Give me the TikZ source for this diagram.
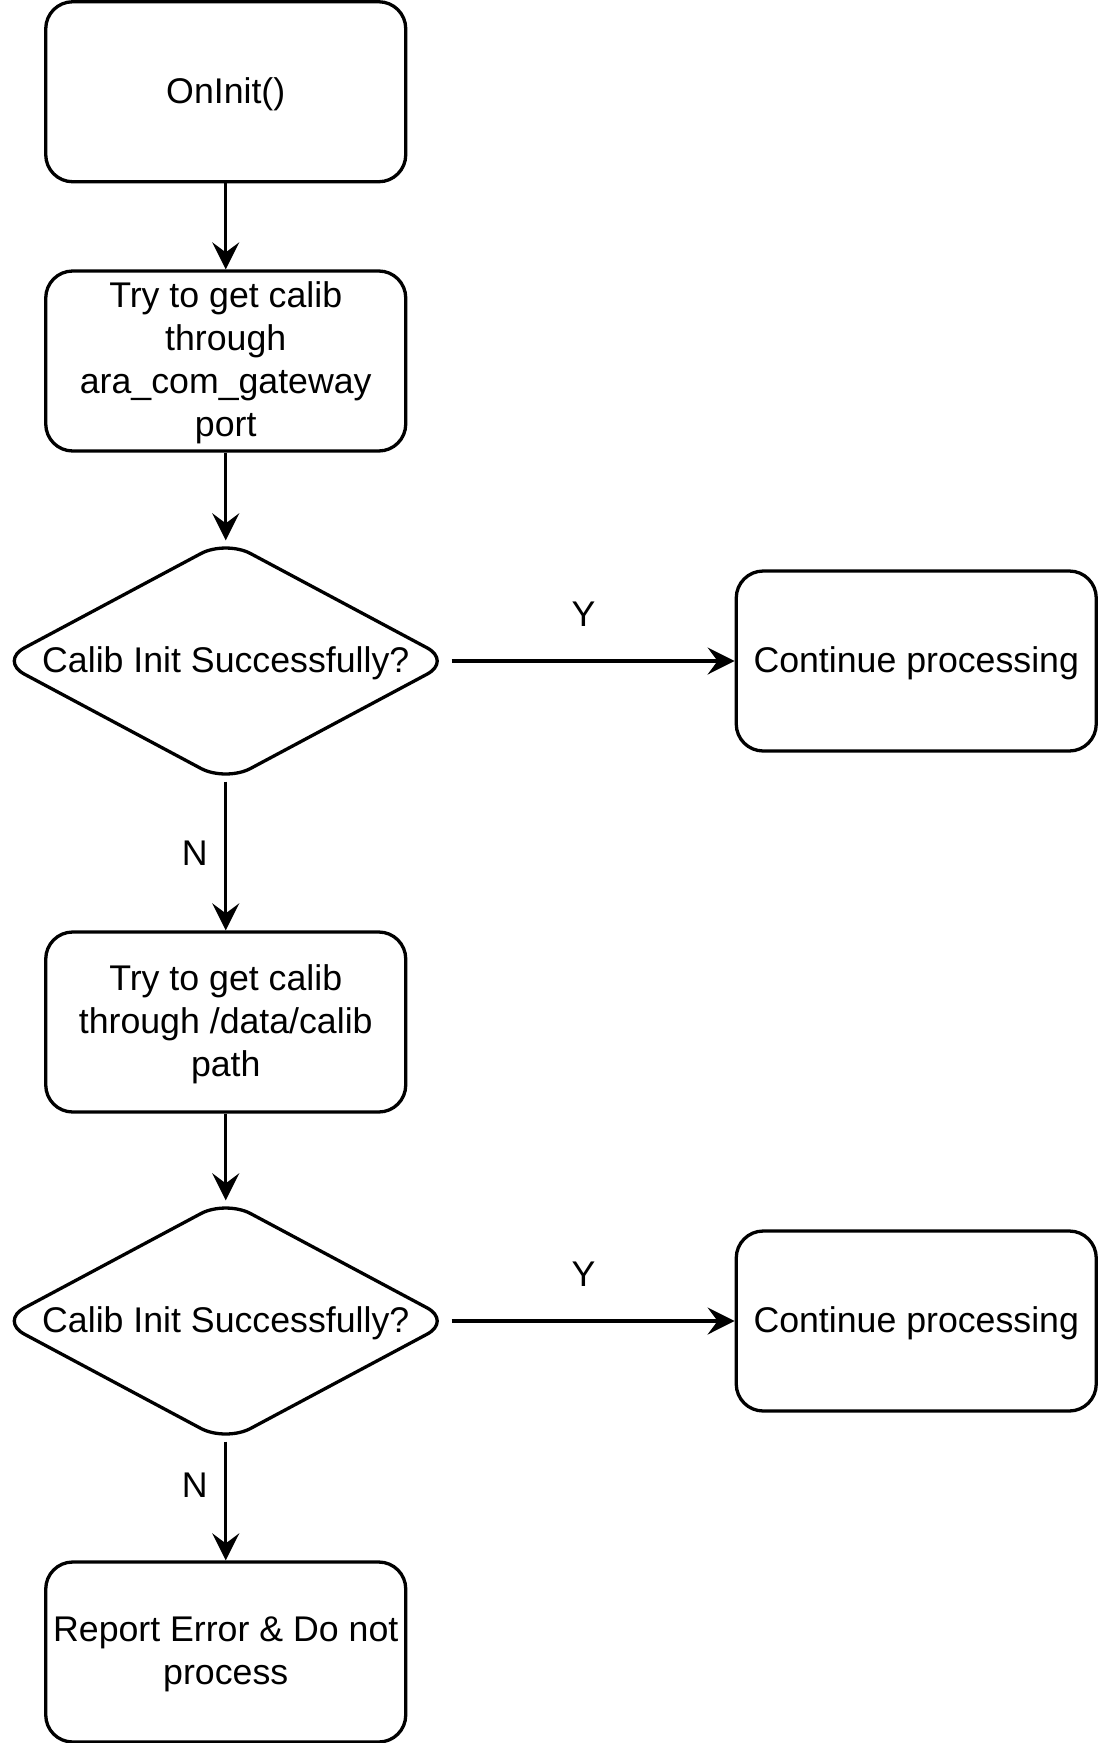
\documentclass[tikz,border=0pt]{standalone}
\usepackage{fontspec}
\setmainfont{Liberation Sans}
\usetikzlibrary{arrows.meta}
\newcommand{\lwrtxt}[1]{\raisebox{-2.8pt}[\height][\depth]{\begin{tabular}{@{}c@{}}#1\end{tabular}}}
\begin{document}
\begin{tikzpicture}[x=1pt,y=-1pt,
  every node/.style={font=\fontsize{35.7}{43}\selectfont},
  procbox/.style={draw, line width=3.3pt, rounded corners=27pt, minimum width=360pt, minimum height=180pt, inner sep=0pt, align=center},
  decbox/.style={minimum width=451.5pt, minimum height=241pt, inner sep=0pt},
  decline/.style={line width=3.3pt, rounded corners=28pt},
  conn/.style={line width=3.3pt, -{Stealth[length=27pt,width=27pt,inset=10pt]}},
  lbl/.style={inner sep=0pt}]
\useasboundingbox (0,0) rectangle (1101,1743);
\node[procbox] (b1) at (225.75,91.75) {\lwrtxt{OnInit()}};
\node[procbox] (b2) at (225.75,361) {\lwrtxt{Try to get calib\\through\\ara\_com\_gateway\\port}};
\node[decbox] (d1) at (225.75,661) {\lwrtxt{Calib Init Successfully?}};
\draw[decline] (d1.north) -- (d1.east) -- (d1.south) -- (d1.west) -- cycle;
\node[procbox] (c1) at (916.25,661) {\lwrtxt{Continue processing}};
\node[procbox] (b3) at (225.75,1022) {\lwrtxt{Try to get calib\\through /data/calib\\path}};
\node[decbox] (d2) at (225.75,1321) {\lwrtxt{Calib Init Successfully?}};
\draw[decline] (d2.north) -- (d2.east) -- (d2.south) -- (d2.west) -- cycle;
\node[procbox] (c2) at (916.25,1321) {\lwrtxt{Continue processing}};
\node[procbox] (b4) at (225.75,1652) {\lwrtxt{Report Error \& Do not\\process}};
\draw[conn] (b1) -- (b2);
\draw[conn] (b2) -- (d1.north);
\draw[conn] (d1.east) -- node[lbl, pos=0.466, yshift=47pt] {Y} (c1);
\draw[conn] (d1.south) -- node[lbl, pos=0.48, xshift=-31pt] {N} (b3);
\draw[conn] (b3) -- (d2.north);
\draw[conn] (d2.east) -- node[lbl, pos=0.466, yshift=47pt] {Y} (c2);
\draw[conn] (d2.south) -- node[lbl, pos=0.37, xshift=-31pt] {N} (b4);
\end{tikzpicture}
\end{document}
